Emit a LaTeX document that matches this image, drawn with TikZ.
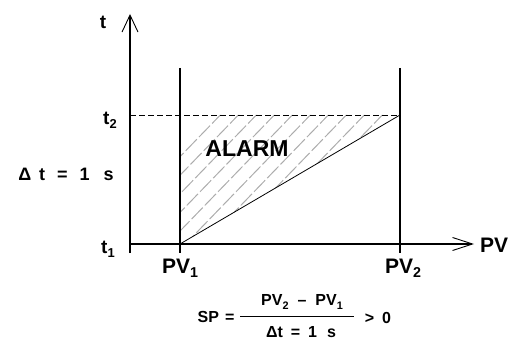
\documentclass[tikz,border=0pt]{standalone}
\usepackage{fontspec}
\setmainfont{Liberation Sans}
\usetikzlibrary{arrows.meta}
\newcommand\dnsub[1]{\raisebox{-0.4ex}{\scalebox{0.68}{#1}}}
\begin{document}
\begin{tikzpicture}[x=1pt,y=-1pt,
  axis/.style={line width=1.1pt,black},
  lbl/.style={inner sep=0pt,font=\bfseries\fontsize{#1}{#1}\selectfont},
  hatchline/.style={gray!65,line width=1pt,dash pattern=on 16pt off 3pt}]
\useasboundingbox (0,0) rectangle (510,344);
% coordinates
\coordinate (O) at (130,244);
\coordinate (ytop) at (130,14);
\coordinate (ybot) at (130,253);
\coordinate (xend) at (474,244);
\coordinate (p1top) at (180,68);
\coordinate (p1bot) at (180,253);
\coordinate (p2top) at (400,68);
\coordinate (p2bot) at (400,253);
\coordinate (t2l) at (130,115);
\coordinate (A) at (180,115);
\coordinate (B) at (400,115);
\coordinate (C) at (180,244);
% hatching
\begin{scope}
  \clip (A) -- (B) -- (C) -- cycle;
  \foreach \i in {0,...,16} {
    \draw[hatchline] (80+18*\i,260) -- (80+18*\i+150,105);
  }
\end{scope}
% axes
\draw[axis,-{Straight Barb[length=17pt,width=16pt,line width=0.9pt]}] (ybot) -- (ytop);
\draw[axis,-{Straight Barb[length=20pt,width=13pt,line width=0.9pt]}] (O) -- (xend);
\draw[axis] (p1top) -- (p1bot);
\draw[axis] (p2top) -- (p2bot);
\draw[line width=0.9pt,dash pattern=on 6pt off 3pt] (t2l) -- (B);
\draw[line width=0.8pt] (C) -- (B);
% labels
\node[lbl=19] (tl) at (103,22) {t};
\node[lbl=19] (t2) at (110,120) {t\dnsub{2}};
\node[lbl=19] (t1) at (108,249) {t\dnsub{1}};
\node[lbl=18] (dt) at (66,174) {Δ\hspace{8pt}t\hspace{12pt}=\hspace{12pt}1\hspace{14pt}s};
\node[lbl=23] (alarm) at (247,149) {ALARM};
\node[lbl=21] (pv1) at (180,268) {PV\dnsub{1}};
\node[lbl=21] (pv2) at (403,268) {PV\dnsub{2}};
\node[lbl=21] (pv) at (494,245) {PV};
% formula
\node[lbl=16] (sp) at (216,317) {SP\hspace{6pt}=};
\coordinate (barl) at (240,316);
\coordinate (barr) at (354,316);
\draw[line width=0.9pt] (barl) -- (barr);
\node[lbl=16] (num) at (302,302) {PV\dnsub{2}\hspace{9pt}--\hspace{9pt}PV\dnsub{1}};
\node[lbl=16] (den) at (301,332) {Δt\hspace{8pt}=\hspace{8pt}1\hspace{10pt}s};
\node[lbl=16] (gt) at (378,318) {>\hspace{8pt}0};
\end{tikzpicture}
\end{document}
